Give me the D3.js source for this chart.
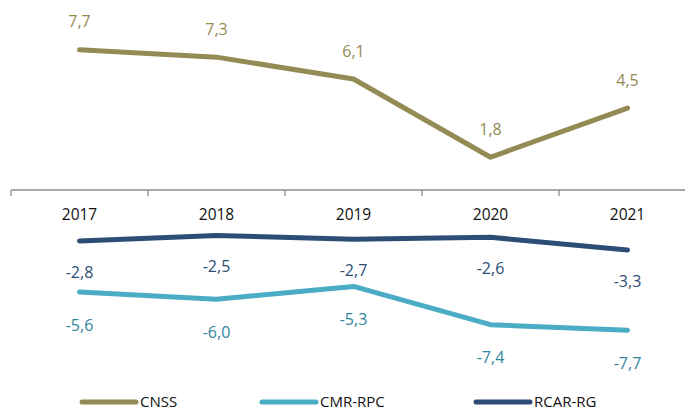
<!DOCTYPE html>
<html>
<head>
<meta charset="utf-8">
<script src="https://cdn.jsdelivr.net/npm/d3@7"></script>
<style>
  body { margin: 0; background: #fff; }
  text { font-family: "Open Sans", "Noto Sans", sans-serif; }
</style>
</head>
<body>
<svg id="chart" width="685" height="410"></svg>
<script>
const years = ["2017", "2018", "2019", "2020", "2021"]
const cnss = [7.7, 7.3, 6.1, 1.8, 4.5]
const cmrRpc = [-5.6, -6.0, -5.3, -7.4, -7.7]
const rcarRg = [-2.8, -2.5, -2.7, -2.6, -3.3]

const series = [
    { name: "CNSS", values: cnss, color: "#948a54", label: "#948a54", dy: -28 },
    { name: "CMR-RPC", values: cmrRpc, color: "#4bacc6", label: "#31859c", dy: 33 },
    { name: "RCAR-RG", values: rcarRg, color: "#2c4d75", label: "#2c4d75", dy: 31 }
]

const svg = d3.select("#chart")

let x = d3.scaleBand().domain(years).range([11, 696])
let y = d3.scaleLinear().domain([-10, 10]).range([372, 8])

// category axis at zero
let axis = svg.append("g")
    .attr("transform", `translate(0,${y(0)})`)
axis.append("line")
    .attr("x1", 11).attr("x2", 685)
    .attr("stroke", "#8c8c8c").attr("stroke-width", 1.3)
axis.selectAll("line.tick")
    .data(years)
    .join("line")
    .attr("class", "tick")
    .attr("x1", d => x(d)).attr("x2", d => x(d))
    .attr("y1", 0).attr("y2", 6)
    .attr("stroke", "#8c8c8c").attr("stroke-width", 1.3)
axis.selectAll("text")
    .data(years)
    .join("text")
    .attr("x", d => x(d) + x.bandwidth() / 2)
    .attr("y", 25)
    .attr("dy", "0.35em")
    .attr("text-anchor", "middle")
    .attr("font-size", 15.5)
    .attr("fill", "#111")
    .text(d => d)

let line = d3.line()
    .x((d, i) => x(years[i]) + x.bandwidth() / 2)
    .y(d => y(d))

series.forEach(s => {
    svg.append("path")
        .datum(s.values)
        .attr("d", line)
        .attr("fill", "none")
        .attr("stroke", s.color)
        .attr("stroke-width", 5)
        .attr("stroke-linecap", "round")
        .attr("stroke-linejoin", "round")

    svg.append("g")
        .selectAll("text")
        .data(s.values)
        .join("text")
        .attr("x", (d, i) => x(years[i]) + x.bandwidth() / 2)
        .attr("y", d => y(d) + s.dy)
        .attr("dy", "0.35em")
        .attr("text-anchor", "middle")
        .attr("font-size", 16)
        .attr("fill", s.label)
        .text(d => d.toFixed(1).replace(".", ","))
})

// legend
const legendX = [82, 262, 476]
let legend = svg.append("g")
    .selectAll("g")
    .data(series)
    .join("g")
    .attr("transform", (d, i) => `translate(${legendX[i]},402)`)
legend.append("line")
    .attr("x1", 0).attr("x2", 54)
    .attr("stroke", d => d.color)
    .attr("stroke-width", 5)
    .attr("stroke-linecap", "round")
legend.append("text")
    .attr("x", 58)
    .attr("dy", "0.35em")
    .attr("font-size", 15)
    .attr("fill", "#111")
    .text(d => d.name)
</script>
</body>
</html>
